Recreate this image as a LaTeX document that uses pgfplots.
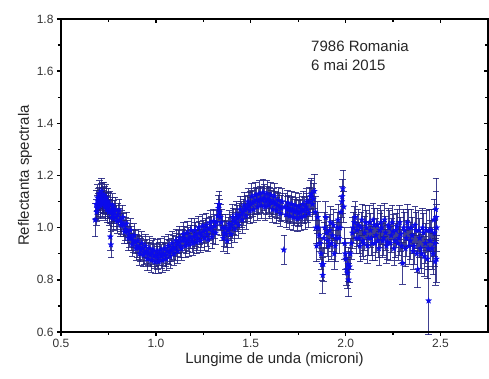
\documentclass[border=0pt]{standalone}
\usepackage{fontspec}
\setmainfont{Liberation Sans}
\usepackage{pgfplots}
\usepackage{pgfplotstable}
\pgfplotsset{compat=1.18}
\definecolor{starblue}{RGB}{10,10,235}
\definecolor{errnavy}{RGB}{30,30,125}
\pgfdeclareplotmark{fstar}{%
\pgfpathmoveto{\pgfpointpolar{90}{\pgfplotmarksize}}%
\pgfpathlineto{\pgfpointpolar{126}{0.42\pgfplotmarksize}}%
\pgfpathlineto{\pgfpointpolar{162}{\pgfplotmarksize}}%
\pgfpathlineto{\pgfpointpolar{198}{0.42\pgfplotmarksize}}%
\pgfpathlineto{\pgfpointpolar{234}{\pgfplotmarksize}}%
\pgfpathlineto{\pgfpointpolar{270}{0.42\pgfplotmarksize}}%
\pgfpathlineto{\pgfpointpolar{306}{\pgfplotmarksize}}%
\pgfpathlineto{\pgfpointpolar{342}{0.42\pgfplotmarksize}}%
\pgfpathlineto{\pgfpointpolar{18}{\pgfplotmarksize}}%
\pgfpathlineto{\pgfpointpolar{54}{0.42\pgfplotmarksize}}%
\pgfpathclose\pgfusepathqfillstroke}
\pgfplotstableread{
x y e
0.680 1.030 0.065
0.685 1.090 0.055
0.690 1.075 0.050
0.695 1.100 0.050
0.700 1.110 0.045
0.705 1.095 0.050
0.710 1.120 0.050
0.715 1.105 0.045
0.720 1.125 0.050
0.725 1.100 0.045
0.730 1.110 0.050
0.735 1.090 0.045
0.740 1.100 0.050
0.745 1.080 0.045
0.750 1.085 0.050
0.755 1.065 0.045
0.760 0.965 0.050
0.763 0.935 0.050
0.765 1.060 0.045
0.770 1.070 0.045
0.775 1.050 0.045
0.780 1.060 0.045
0.790 1.040 0.045
0.800 1.050 0.045
0.810 1.030 0.045
0.820 1.020 0.045
0.830 1.010 0.045
0.840 0.995 0.045
0.850 0.985 0.045
0.860 0.970 0.045
0.870 0.960 0.045
0.880 0.950 0.045
0.890 0.945 0.045
0.900 0.930 0.045
0.910 0.925 0.045
0.920 0.915 0.045
0.930 0.920 0.045
0.940 0.905 0.045
0.950 0.910 0.045
0.960 0.900 0.045
0.970 0.895 0.045
0.980 0.905 0.045
0.990 0.890 0.045
1.000 0.895 0.045
1.010 0.885 0.045
1.020 0.900 0.045
1.030 0.890 0.045
1.040 0.900 0.045
1.050 0.895 0.045
1.060 0.910 0.045
1.070 0.905 0.045
1.080 0.915 0.045
1.090 0.925 0.045
1.100 0.920 0.045
1.110 0.935 0.045
1.120 0.945 0.045
1.130 0.930 0.045
1.140 0.950 0.045
1.150 0.960 0.045
1.160 0.945 0.045
1.170 0.955 0.045
1.180 0.965 0.045
1.190 0.950 0.045
1.200 0.965 0.045
1.210 0.975 0.045
1.220 0.960 0.045
1.230 0.980 0.045
1.240 0.970 0.045
1.250 0.985 0.045
1.260 0.990 0.045
1.270 0.975 0.045
1.280 0.995 0.045
1.290 1.000 0.045
1.300 0.985 0.045
1.310 1.005 0.045
1.320 1.020 0.045
1.330 1.075 0.050
1.335 1.060 0.050
1.340 1.040 0.050
1.350 1.000 0.050
1.360 0.980 0.050
1.370 0.975 0.050
1.380 0.990 0.050
1.390 1.000 0.050
1.400 1.010 0.050
1.410 1.025 0.050
1.420 1.020 0.050
1.430 1.035 0.050
1.440 1.045 0.050
1.450 1.050 0.050
1.460 1.060 0.050
1.470 1.070 0.050
1.480 1.075 0.050
1.490 1.085 0.050
1.500 1.090 0.050
1.510 1.095 0.050
1.520 1.100 0.050
1.530 1.105 0.050
1.540 1.100 0.050
1.550 1.110 0.050
1.560 1.105 0.050
1.570 1.115 0.050
1.580 1.100 0.050
1.590 1.110 0.050
1.600 1.105 0.050
1.610 1.095 0.050
1.620 1.100 0.050
1.630 1.090 0.050
1.640 1.085 0.050
1.650 1.080 0.050
1.660 1.075 0.050
1.674 0.915 0.055
1.680 1.080 0.050
1.690 1.070 0.050
1.700 1.075 0.050
1.710 1.065 0.050
1.720 1.070 0.050
1.730 1.060 0.050
1.740 1.065 0.050
1.750 1.055 0.050
1.760 1.060 0.050
1.770 1.070 0.050
1.780 1.065 0.050
1.790 1.080 0.050
1.800 1.070 0.050
1.810 1.100 0.055
1.820 1.130 0.060
1.830 1.110 0.060
1.840 1.060 0.060
1.847 0.930 0.060
1.855 1.000 0.060
1.860 0.970 0.060
1.870 0.900 0.060
1.875 0.860 0.060
1.879 0.818 0.070
1.885 0.960 0.060
1.890 1.000 0.060
1.900 0.980 0.060
1.910 0.930 0.060
1.920 1.020 0.060
1.930 0.970 0.060
1.940 0.900 0.060
1.950 0.960 0.060
1.960 1.030 0.060
1.970 1.000 0.060
1.980 1.100 0.060
1.985 1.150 0.070
1.990 1.080 0.060
1.995 0.940 0.060
2.000 0.880 0.060
2.005 0.840 0.060
2.010 0.826 0.060
2.015 0.800 0.065
2.020 0.850 0.060
2.030 0.940 0.060
2.040 1.000 0.060
2.050 1.040 0.060
2.060 0.990 0.060
2.070 0.960 0.060
2.080 1.000 0.060
2.090 0.950 0.060
2.100 0.980 0.065
2.110 1.000 0.065
2.120 0.960 0.065
2.130 0.990 0.065
2.140 0.940 0.065
2.150 1.010 0.065
2.160 0.970 0.065
2.170 0.950 0.065
2.180 0.990 0.065
2.190 1.000 0.065
2.200 0.960 0.065
2.210 0.980 0.065
2.220 0.945 0.065
2.230 1.000 0.065
2.240 0.970 0.065
2.250 0.985 0.065
2.260 0.950 0.065
2.270 1.005 0.065
2.280 0.960 0.065
2.290 0.975 0.065
2.300 0.864 0.080
2.310 0.990 0.070
2.320 0.960 0.070
2.330 1.000 0.070
2.340 0.950 0.070
2.350 0.970 0.070
2.360 0.930 0.070
2.370 0.990 0.070
2.380 0.840 0.070
2.390 0.960 0.075
2.400 0.900 0.075
2.410 0.980 0.075
2.420 0.940 0.075
2.430 0.880 0.075
2.437 0.720 0.130
2.445 0.950 0.080
2.450 0.990 0.080
2.460 0.900 0.080
2.465 1.030 0.080
2.470 0.940 0.090
2.475 1.070 0.120
2.478 0.880 0.090
2.480 1.000 0.090
0.6875 1.060 0.050
0.6925 1.115 0.050
0.6975 1.080 0.050
0.7025 1.130 0.050
0.7075 1.085 0.050
0.7125 1.140 0.050
0.7175 1.090 0.050
0.7225 1.105 0.050
0.7275 1.125 0.050
0.7325 1.080 0.050
0.7375 1.115 0.050
0.7425 1.070 0.050
0.7475 1.100 0.050
0.7525 1.060 0.050
0.7575 1.090 0.050
0.7675 1.040 0.045
0.7725 1.085 0.045
0.7775 1.035 0.045
0.785 1.070 0.045
0.795 1.025 0.045
0.805 1.065 0.045
0.815 1.010 0.045
0.825 1.040 0.045
0.835 0.985 0.045
0.845 1.015 0.045
0.855 0.960 0.045
0.865 0.990 0.045
0.875 0.935 0.045
0.885 0.970 0.045
0.895 0.920 0.045
0.905 0.950 0.045
0.915 0.900 0.045
0.925 0.940 0.045
0.935 0.895 0.045
0.945 0.930 0.045
0.955 0.880 0.045
0.965 0.920 0.045
0.975 0.875 0.045
0.985 0.915 0.045
0.995 0.870 0.045
1.005 0.910 0.045
1.015 0.870 0.045
1.025 0.915 0.045
1.035 0.875 0.045
1.045 0.920 0.045
1.055 0.880 0.045
1.065 0.930 0.045
1.075 0.890 0.045
1.085 0.940 0.045
1.095 0.900 0.045
1.105 0.950 0.045
1.115 0.910 0.045
1.125 0.960 0.045
1.135 0.920 0.045
1.145 0.975 0.045
1.155 0.930 0.045
1.165 0.980 0.045
1.175 0.935 0.045
1.185 0.990 0.045
1.195 0.940 0.045
1.205 0.990 0.045
1.215 0.945 0.045
1.225 1.000 0.045
1.235 0.950 0.045
1.245 1.005 0.045
1.255 0.960 0.045
1.265 1.010 0.045
1.275 0.955 0.045
1.285 1.020 0.045
1.295 0.965 0.045
1.305 1.025 0.045
1.315 0.980 0.045
1.325 1.045 0.050
1.3325 1.090 0.050
1.345 1.020 0.050
1.355 0.960 0.050
1.365 1.000 0.050
1.375 0.950 0.050
1.385 1.015 0.050
1.395 0.975 0.050
1.405 1.040 0.050
1.415 0.995 0.050
1.425 1.050 0.050
1.435 1.010 0.050
1.445 1.070 0.050
1.455 1.030 0.050
1.465 1.085 0.050
1.475 1.045 0.050
1.485 1.100 0.050
1.495 1.065 0.050
1.505 1.120 0.050
1.515 1.070 0.050
1.525 1.125 0.050
1.535 1.080 0.050
1.545 1.130 0.050
1.555 1.085 0.050
1.565 1.135 0.050
1.575 1.080 0.050
1.585 1.130 0.050
1.595 1.085 0.050
1.605 1.125 0.050
1.615 1.070 0.050
1.625 1.120 0.050
1.635 1.065 0.050
1.645 1.105 0.050
1.655 1.055 0.050
1.665 1.100 0.050
1.685 1.050 0.050
1.695 1.095 0.050
1.705 1.045 0.050
1.715 1.090 0.050
1.725 1.040 0.050
1.735 1.085 0.050
1.745 1.035 0.050
1.755 1.080 0.050
1.765 1.040 0.050
1.775 1.090 0.050
1.785 1.045 0.050
1.795 1.100 0.050
1.805 1.055 0.055
1.815 1.120 0.060
1.825 1.090 0.060
1.835 1.140 0.065
1.843 1.000 0.060
1.852 1.040 0.060
1.865 0.940 0.060
1.882 0.860 0.065
1.895 1.040 0.060
1.905 0.950 0.060
1.915 0.990 0.060
1.925 0.940 0.060
1.935 1.010 0.060
1.945 0.930 0.060
1.955 1.000 0.060
1.965 0.960 0.060
1.975 1.060 0.060
1.982 1.120 0.065
1.998 0.900 0.060
2.012 0.860 0.065
2.025 0.900 0.060
2.035 0.980 0.060
2.045 1.020 0.060
2.055 0.960 0.060
2.065 1.010 0.060
2.075 0.930 0.060
2.085 1.030 0.060
2.095 0.940 0.060
2.105 1.020 0.065
2.115 0.930 0.065
2.125 1.020 0.065
2.135 0.960 0.065
2.145 1.030 0.065
2.155 0.940 0.065
2.165 1.010 0.065
2.175 0.920 0.065
2.185 1.020 0.065
2.195 0.950 0.065
2.205 1.030 0.065
2.215 0.930 0.065
2.225 1.010 0.065
2.235 0.940 0.065
2.245 1.020 0.065
2.255 0.920 0.065
2.265 0.990 0.065
2.275 0.940 0.065
2.285 1.020 0.065
2.295 0.930 0.065
2.305 1.000 0.070
2.315 0.920 0.070
2.325 1.020 0.070
2.335 0.930 0.070
2.345 1.000 0.070
2.355 0.910 0.070
2.365 1.010 0.070
2.375 0.900 0.070
2.385 0.990 0.075
2.395 0.920 0.075
2.405 1.000 0.075
2.415 0.890 0.075
2.425 0.990 0.075
2.435 0.920 0.080
2.442 0.990 0.080
2.455 0.920 0.080
2.468 0.980 0.090
2.472 0.870 0.090
2.477 1.040 0.100
}\spectrum
\begin{document}
\begin{tikzpicture}
\path[use as bounding box] (-61pt,-47pt) rectangle (428pt,332pt);
\begin{axis}[
  scale only axis, width=427pt, height=313pt,
  xmin=0.5, xmax=2.75, ymin=0.6, ymax=1.8,
  xtick={0.5,1.0,1.5,2.0,2.5}, ytick={0.6,0.8,1.0,1.2,1.4,1.6,1.8},
  minor x tick num=1, minor y tick num=1,
  xtick pos=left, ytick pos=left, tick align=outside,
  major tick length=4pt, minor tick length=3pt,
  axis line style={line width=1.8pt},
  every tick/.style={black, line width=1.4pt},
  /pgf/number format/assume math mode=true,
  xticklabel style={/pgf/number format/.cd, fixed, fixed zerofill, precision=1},
  yticklabel style={/pgf/number format/.cd, fixed, fixed zerofill, precision=1},
  tick label style={font=\fontsize{12}{14}\selectfont, text=black!80},
  xlabel={Lungime de unda (microni)},
  ylabel={Reflectanta spectrala},
  label style={font=\fontsize{15}{17}\selectfont, text=black!85},
  xlabel style={yshift=2pt},
  ylabel style={yshift=-2pt},
  clip=false,
]
\addplot[only marks, mark=fstar, mark size=3.2pt,
  mark options={fill=starblue, draw=starblue, line width=0.2pt},
  error bars/.cd, y dir=both, y explicit,
  error bar style={color=errnavy, line width=0.6pt, opacity=0.85},
  error mark options={rotate=90, mark size=3.3pt, color=errnavy, line width=0.6pt, opacity=0.85}]
  table[x=x, y=y, y error=e] {\spectrum};
\node[anchor=base west, font=\fontsize{15}{17}\selectfont, text=black!85] at (axis cs:1.80,1.674) {7986 Romania};
\node[anchor=base west, font=\fontsize{15}{17}\selectfont, text=black!85] at (axis cs:1.80,1.601) {6 mai 2015};
\end{axis}
\begin{axis}[
  scale only axis, width=427pt, height=313pt,
  xmin=0.5, xmax=2.75, ymin=0.6, ymax=1.8,
  xtick={0.5,1.0,1.5,2.0,2.5}, ytick={0.6,0.8,1.0,1.2,1.4,1.6,1.8},
  minor x tick num=1, minor y tick num=1,
  xtick pos=right, ytick pos=right, tick align=inside,
  major tick length=4pt, minor tick length=3pt,
  axis line style={line width=1.8pt},
  every tick/.style={black, line width=1.4pt},
  xticklabels={}, yticklabels={},
]
\end{axis}
\end{tikzpicture}
\end{document}
